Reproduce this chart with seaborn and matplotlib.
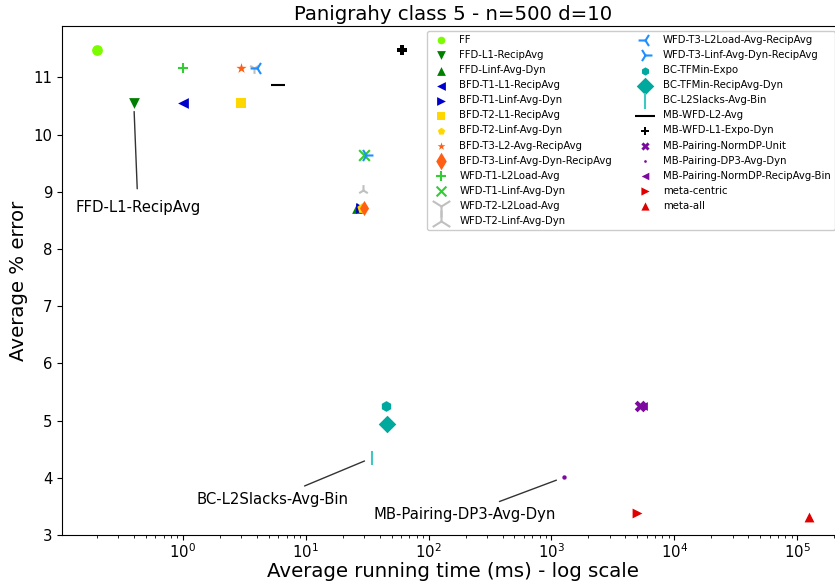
import matplotlib
matplotlib.use("Agg")
import matplotlib.pyplot as plt
import seaborn as sns
import pandas as pd

names = ["FF", "FFD-L1-RecipAvg", "FFD-Linf-Avg-Dyn", "BFD-T1-L1-RecipAvg", "BFD-T1-Linf-Avg-Dyn",
         "BFD-T2-L1-RecipAvg", "BFD-T2-Linf-Avg-Dyn", "BFD-T3-L2-Avg-RecipAvg", "BFD-T3-Linf-Avg-Dyn-RecipAvg",
         "WFD-T1-L2Load-Avg", "WFD-T1-Linf-Avg-Dyn", "WFD-T2-L2Load-Avg", "WFD-T2-Linf-Avg-Dyn",
         "WFD-T3-L2Load-Avg-RecipAvg", "WFD-T3-Linf-Avg-Dyn-RecipAvg", "BC-TFMin-Expo", "BC-TFMin-RecipAvg-Dyn",
         "BC-L2Slacks-Avg-Bin", "MB-WFD-L2-Avg", "MB-WFD-L1-Expo-Dyn", "MB-Pairing-NormDP-Unit",
         "MB-Pairing-DP3-Avg-Dyn", "MB-Pairing-NormDP-RecipAvg-Bin", "meta-centric", "meta-all"]
time_ms = [0.20, 0.40, 26, 1.0, 28, 3.0, 29, 3.0, 30, 1.0, 30, 3.8, 29.5, 4.0, 31,
           45, 46, 34.8, 6.0, 61, 5300, 1270, 5600, 4950, 125000]
error_pct = [11.48, 10.55, 8.71, 10.55, 8.71, 10.55, 8.71, 11.17, 8.72, 11.17, 9.64, 11.17, 9.04,
             11.17, 9.64, 5.26, 4.94, 4.35, 10.87, 11.48, 5.25, 4.01, 5.25, 3.39, 3.32]
x_ticks = [1e0, 1e1, 1e2, 1e3, 1e4, 1e5]
y_ticks = [3, 4, 5, 6, 7, 8, 9, 10, 11]

markers = ['o', 'v', '^', '<', '>', 's', 'p', '*', 'd', '+', 'x', '1', '2', '3', '4',
           'h', 'D', '|', '_', 'P', 'X', '.', '<', '>', '^']
colors = ['#7cfc00', '#008000', '#008000', '#0000cd', '#0000cd', '#ffd700', '#ffd700', '#ff5e13', '#ff5e13',
          '#32cd32', '#32cd32', '#c0c0c0', '#c0c0c0', '#1e90ff', '#1e90ff', '#00a99d', '#00a99d',
          '#40c8c0', '#000000', '#000000', '#7d0a9e', '#7d0a9e', '#7d0a9e', '#e00000', '#e00000']
sizes = [60, 60, 60, 60, 60, 60, 60, 60, 60, 60, 60, 60, 60, 100, 100,
         60, 80, 100, 90, 60, 70, 40, 40, 50, 50]
legend_sizes = [30, 40, 40, 40, 40, 40, 30, 35, 80, 50, 50, 250, 250, 100, 100,
                35, 80, 117, 200, 35, 35, 15, 30, 35, 35]
line_markers = ['+', 'x', '1', '2', '3', '4', '|', '_']

df = pd.DataFrame({"name": names, "time": time_ms, "err": error_pct})

fig = plt.figure(figsize=(8.35, 5.85), dpi=100)
ax = fig.add_axes([62/835, 50/585, (844-62)/835, (535-26)/585])

for i, n in enumerate(names):
    sub = df[df["name"] == n]
    sns.scatterplot(data=sub, x="time", y="err", ax=ax, marker=markers[i], color=colors[i],
                    s=sizes[i], label=n, linewidth=1.5 if markers[i] in line_markers else 0,
                    zorder=3)

ax.set_xscale("log")
ax.set_xticks(x_ticks)
ax.set_xlim(0.1042, 2.4e5)
ax.set_ylim(3.0, 11.9)
ax.set_yticks(y_ticks)
ax.tick_params(axis='both', labelsize=10.7)
ax.tick_params(axis='x', pad=1.5)
ax.set_xlabel("Average running time (ms) - log scale", fontsize=14.2, labelpad=1)
ax.set_ylabel("Average % error", fontsize=14.2)
ax.set_title("Panigrahy class 5 - n=500 d=10", fontsize=14.2, pad=4.5)

annots = [("FFD-L1-RecipAvg", 1, (3, -75)),
          ("BC-L2Slacks-Avg-Bin", 17, (-72, -30)),
          ("MB-Pairing-DP3-Avg-Dyn", 21, (-72, -27))]
for txt, idx, off in annots:
    ax.annotate(txt, xy=(time_ms[idx], error_pct[idx]), xytext=off, textcoords='offset points',
                ha='center', va='center', fontsize=10.7,
                arrowprops=dict(arrowstyle='-', color='#333333', lw=1, shrinkA=6, shrinkB=6))

leg = ax.legend(ncol=2, fontsize=7.3, loc='upper left', bbox_to_anchor=(427/835, 1-31/585),
                bbox_transform=fig.transFigure, framealpha=1, columnspacing=2.2, borderaxespad=0)
for h, s in zip(leg.legend_handles, legend_sizes):
    h.set_sizes([s])

fig.savefig("out.png", dpi=100)
